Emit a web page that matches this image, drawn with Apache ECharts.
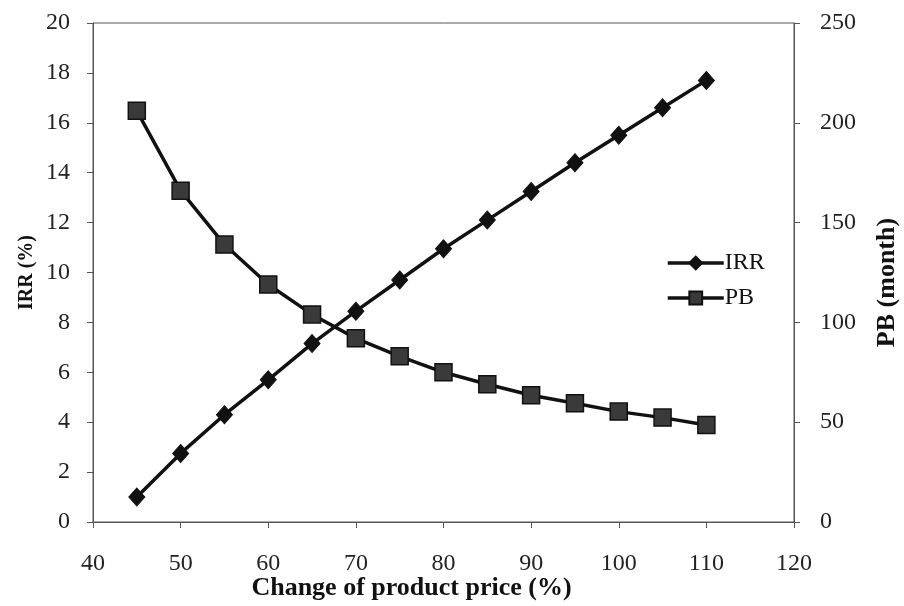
<!DOCTYPE html>
<html><head><meta charset="utf-8">
<script src="https://cdn.jsdelivr.net/npm/echarts@6/dist/echarts.min.js"></script>
<style>html,body{margin:0;padding:0;background:#fff}#c{width:904px;height:606px}</style>
</head><body><div id="c"></div>
<script>
var priceChange = [45, 50, 55, 60, 65, 70, 75, 80, 85, 90, 95, 100, 105, 110];
var irr = [1.0, 2.75, 4.3, 5.7, 7.15, 8.45, 9.7, 10.95, 12.1, 13.25, 14.4, 15.5, 16.6, 17.7];
var pb = [206, 166, 139, 119, 104, 92, 83, 75, 69, 63.5, 59.5, 55.3, 52.3, 48.6];
var font = 'Liberation Serif, Times New Roman, serif';
var chart = echarts.init(document.getElementById('c'));
chart.setOption({
  animation: false,
  backgroundColor: '#fff',
  grid: {left: 93, right: 110, top: 23, bottom: 84, show: true, borderColor: '#555', borderWidth: 1,
         containLabel: false, outerBoundsMode: 'none'},
  legend: {
    left: 661, top: 246, orient: 'vertical', itemWidth: 56, itemHeight: 16, itemGap: 11,
    textStyle: {fontFamily: font, fontSize: 24, color: '#111', padding: [0,0,0,-4]},
    lineStyle: {width: 3.5, color: '#111'},
    data: ['IRR', 'PB']
  },
  xAxis: {
    type: 'value', min: 40, max: 120, interval: 10,
    name: 'Change of product price (%)', nameLocation: 'middle', nameGap: 53, nameMoveOverlap: false,
    nameTextStyle: {fontFamily: font, fontSize: 26, fontWeight: 'bold', color: '#111', padding: [0, 64, 0, 0]},
    axisLine: {lineStyle: {color: '#555'}},
    axisTick: {show: true, inside: false, length: 6, lineStyle: {color: '#555'}},
    axisLabel: {fontFamily: font, fontSize: 24, color: '#222', margin: 30},
    splitLine: {show: false}
  },
  yAxis: [{
    type: 'value', min: 0, max: 20, interval: 2, position: 'left',
    name: 'IRR (%)', nameLocation: 'middle', nameGap: 56, nameRotate: 90, nameMoveOverlap: false,
    nameTextStyle: {fontFamily: font, fontSize: 20, fontWeight: 'bold', color: '#111'},
    axisLine: {show: true, lineStyle: {color: '#555'}},
    axisTick: {show: true, length: 6, lineStyle: {color: '#555'}},
    axisLabel: {fontFamily: font, fontSize: 24, color: '#222', margin: 23},
    splitLine: {show: false}
  }, {
    type: 'value', min: 0, max: 250, interval: 50, position: 'right',
    name: 'PB (month)', nameLocation: 'middle', nameGap: 80, nameRotate: 90, nameMoveOverlap: false,
    nameTextStyle: {fontFamily: font, fontSize: 26, fontWeight: 'bold', color: '#111', padding: [0, 20, 0, 0]},
    axisLine: {show: true, lineStyle: {color: '#555'}},
    axisTick: {show: true, length: 6, lineStyle: {color: '#555'}},
    axisLabel: {fontFamily: font, fontSize: 24, color: '#222', margin: 26},
    splitLine: {show: false}
  }],
  series: [{
    name: 'IRR', type: 'line', yAxisIndex: 0,
    data: priceChange.map(function (x, i) { return [x, irr[i]]; }),
    symbol: 'diamond', symbolSize: [16, 18],
    lineStyle: {color: '#111', width: 3.5},
    itemStyle: {color: '#111', borderColor: '#111', borderWidth: 1}
  }, {
    name: 'PB', type: 'line', yAxisIndex: 1,
    data: priceChange.map(function (x, i) { return [x, pb[i]]; }),
    symbol: 'rect', symbolSize: 17,
    lineStyle: {color: '#111', width: 3.5},
    itemStyle: {color: '#3a3a3a', borderColor: '#111', borderWidth: 1.5}
  }]
});
</script></body></html>
